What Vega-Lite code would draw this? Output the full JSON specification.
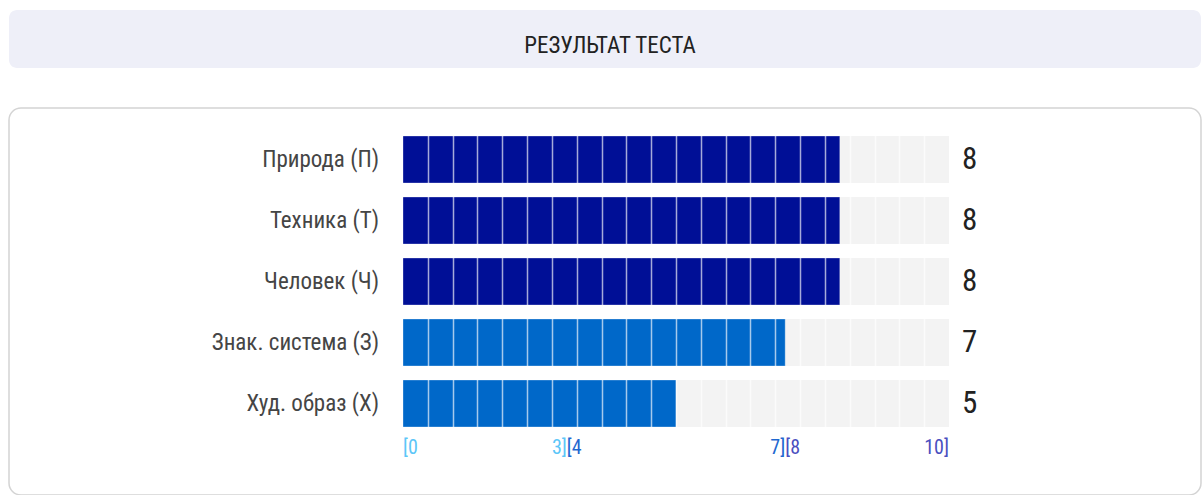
{
  "$schema": "https://vega.github.io/schema/vega-lite/v6.json",
  "padding": {"left": 8, "top": 10, "right": 0, "bottom": 0},
  "background": "white",
  "spacing": 39,
  "config": {
    "font": "Liberation Sans Narrow, Roboto Condensed, DejaVu Sans Condensed, sans-serif",
    "view": {"stroke": null}
  },
  "datasets": {
    "scores": [
      {"category": "Природа (П)", "score": 8, "level": "high"},
      {"category": "Техника (Т)", "score": 8, "level": "high"},
      {"category": "Человек (Ч)", "score": 8, "level": "high"},
      {"category": "Знак. система (З)", "score": 7, "level": "mid"},
      {"category": "Худ. образ (Х)", "score": 5, "level": "mid"}
    ],
    "brackets": [
      {"label": "[0", "pos": 0, "side": "start", "range": "low"},
      {"label": "3]", "pos": 3, "side": "end", "range": "low"},
      {"label": "[4", "pos": 3, "side": "start", "range": "mid"},
      {"label": "7]", "pos": 7, "side": "end", "range": "mid"},
      {"label": "[8", "pos": 7, "side": "start", "range": "high"},
      {"label": "10]", "pos": 10, "side": "end", "range": "high"}
    ],
    "heading": [{"text": "РЕЗУЛЬТАТ ТЕСТА"}]
  },
  "vconcat": [
    {
      "width": 1192,
      "height": 58,
      "view": {"fill": "#eeeff8", "stroke": null, "cornerRadius": 8},
      "data": {"name": "heading"},
      "mark": {
        "type": "text",
        "dx": 5,
        "dy": 14,
        "align": "center",
        "baseline": "alphabetic",
        "fontSize": 23,
        "fontWeight": "normal",
        "color": "#222222"
      },
      "encoding": {
        "x": {"datum": 0.5, "type": "quantitative", "scale": {"domain": [0, 1]}, "axis": null},
        "y": {"datum": 0.5, "type": "quantitative", "scale": {"domain": [0, 1]}, "axis": null},
        "text": {"field": "text"}
      }
    },
    {
      "width": 1192,
      "height": 387,
      "view": {"stroke": "#d4d4d4", "strokeWidth": 1.5, "cornerRadius": 12, "fill": "white"},
      "data": {"name": "scores"},
      "layer": [
        {
          "mark": {"type": "bar", "color": "#f3f3f3", "cornerRadius": 0},
          "encoding": {
            "y": {"field": "category", "type": "nominal", "sort": null, "axis": null,
                  "scale": {"range": [21, 326], "paddingInner": 0.23, "paddingOuter": 0.115}},
            "x": {"datum": 10, "type": "quantitative", "title": null,
                  "scale": {"domain": [0, 10], "range": [394, 940], "nice": false},
                  "axis": {"orient": "top", "values": [0.4545, 0.9091, 1.3636, 1.8182, 2.2727, 2.7273, 3.1818, 3.6364, 4.0909, 4.5455, 5.0, 5.4545, 5.9091, 6.3636, 6.8182, 7.2727, 7.7273, 8.1818, 8.6364, 9.0909, 9.5455],
                           "grid": true, "labels": false, "ticks": false, "domain": false, "title": null,
                           "gridColor": "white", "gridOpacity": 0.65, "gridWidth": 1.5, "zindex": 1}}
          }
        },
        {
          "mark": {"type": "bar", "cornerRadius": 0, "stroke": "white", "strokeOpacity": 0.3, "strokeWidth": 1},
          "encoding": {
            "y": {"field": "category", "type": "nominal", "sort": null},
            "x": {"field": "score", "type": "quantitative"},
            "color": {"field": "level", "type": "nominal", "legend": null,
                      "scale": {"domain": ["low", "mid", "high"], "range": ["#5bc2f7", "#0068c9", "#000f96"]}}
          }
        },
        {
          "mark": {"type": "text", "align": "right", "baseline": "middle", "dx": -24, "fontSize": 23, "color": "#454545"},
          "encoding": {
            "y": {"field": "category", "type": "nominal", "sort": null},
            "x": {"datum": 0, "type": "quantitative"},
            "text": {"field": "category"}
          }
        },
        {
          "mark": {"type": "text", "align": "left", "baseline": "middle", "dx": 13, "fontSize": 31, "color": "#222222"},
          "encoding": {
            "y": {"field": "category", "type": "nominal", "sort": null},
            "x": {"datum": 10, "type": "quantitative"},
            "text": {"field": "score"}
          }
        },
        {
          "data": {"name": "brackets"},
          "transform": [{"filter": "datum.side === 'start'"}],
          "mark": {"type": "text", "align": "left", "baseline": "middle", "dy": 44, "fontSize": 20},
          "encoding": {
            "y": {"datum": "Худ. образ (Х)", "type": "nominal"},
            "x": {"field": "pos", "type": "quantitative"},
            "text": {"field": "label"},
            "fill": {"field": "range", "type": "nominal", "legend": null,
                      "scale": {"domain": ["low", "mid", "high"], "range": ["#5cc6f8", "#1f68d0", "#4a4fbf"]}}
          }
        },
        {
          "data": {"name": "brackets"},
          "transform": [{"filter": "datum.side === 'end'"}],
          "mark": {"type": "text", "align": "right", "baseline": "middle", "dy": 44, "fontSize": 20},
          "encoding": {
            "y": {"datum": "Худ. образ (Х)", "type": "nominal"},
            "x": {"field": "pos", "type": "quantitative"},
            "text": {"field": "label"},
            "fill": {"field": "range", "type": "nominal", "legend": null}
          }
        }
      ]
    }
  ]
}
